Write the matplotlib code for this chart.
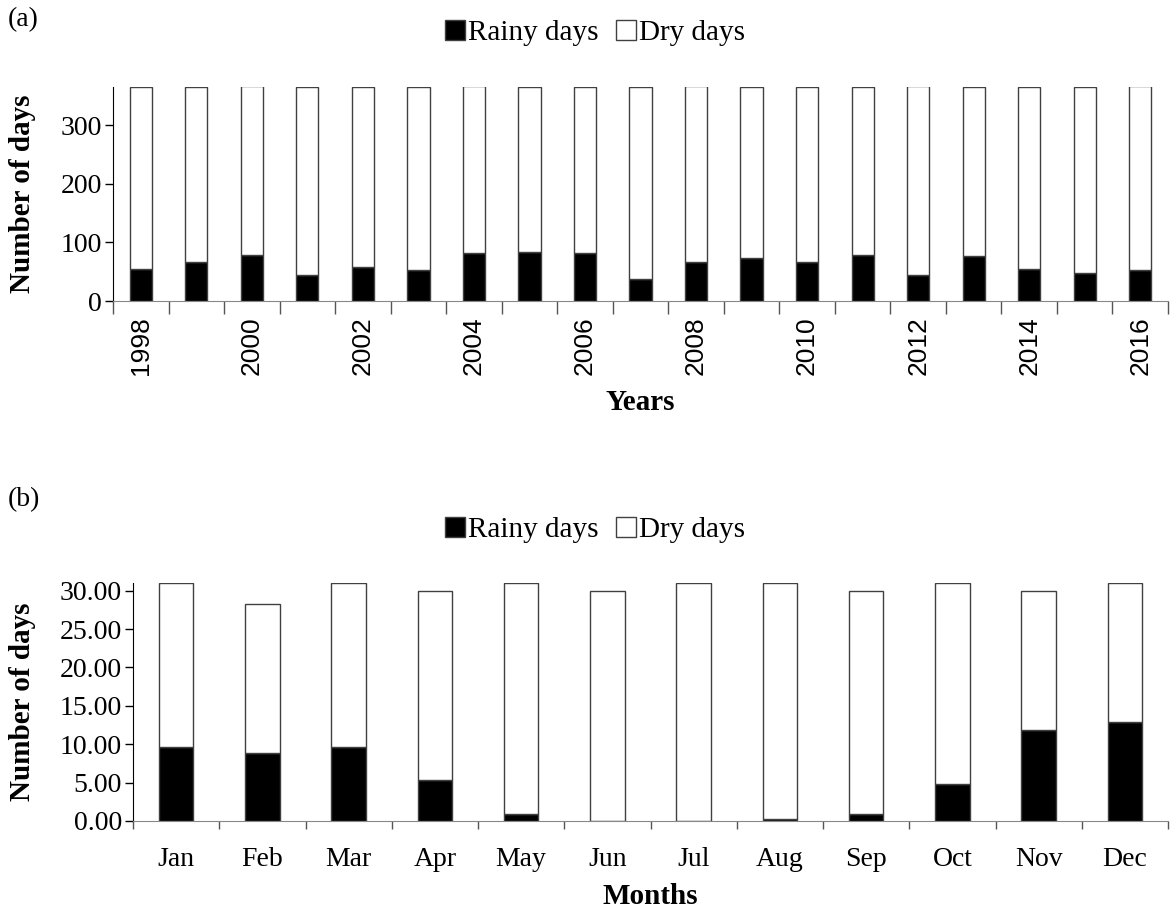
import matplotlib
matplotlib.use("Agg")
import matplotlib.pyplot as plt
import numpy as np
from matplotlib.patches import Patch

plt.rcParams["font.family"] = ["Liberation Serif", "DejaVu Serif"]

# (a) yearly data
years = list(range(1998, 2017))
year_total = [365, 365, 366, 365, 365, 365, 366, 365, 365, 365,
              366, 365, 365, 365, 366, 365, 365, 365, 366]
year_rainy = [55, 67, 79, 44, 58, 53, 82, 84, 82, 38,
              67, 73, 67, 79, 44, 76, 55, 47, 53]

# (b) monthly data
months = ["Jan", "Feb", "Mar", "Apr", "May", "Jun",
          "Jul", "Aug", "Sep", "Oct", "Nov", "Dec"]
month_total = [31, 28.25, 31, 30, 31, 30, 31, 31, 30, 31, 30, 31]
month_rainy = [9.6, 8.8, 9.6, 5.3, 0.9, 0.0, 0.0, 0.2, 0.9, 4.8, 11.8, 12.9]

W, H = 1172, 908
fig = plt.figure(figsize=(W / 100, H / 100), dpi=100)

FS = 20
LFS = 21
edge = "#404040"


def panel(rect, labels, total, rainy, ylim, yticks, yfmt, xlabel, show_every, rot,
          xfamily, xfs, xpad, minor_len):
    ax = fig.add_axes(rect)
    n = len(labels)
    x = np.arange(n)
    rainy = np.array(rainy)
    dry = np.array(total) - rainy
    ax.bar(x, rainy, width=0.4, color="black", edgecolor=edge, linewidth=1)
    ax.bar(x, dry, width=0.4, bottom=rainy, color="white", edgecolor=edge, linewidth=1)
    ax.set_xlim(-0.5, n - 0.5)
    ax.set_ylim(*ylim)
    ax.set_yticks(yticks)
    ax.set_yticklabels([yfmt.format(v) for v in yticks], fontsize=FS)
    ax.set_xticks(x[::show_every])
    ax.set_xticklabels([str(l) for l in labels][::show_every], rotation=rot,
                       fontsize=xfs, family=xfamily)
    ax.tick_params(axis="x", which="major", length=0, pad=xpad)
    # tick marks sit between categories
    ax.set_xticks(np.arange(n + 1) - 0.5, minor=True)
    ax.tick_params(axis="x", which="minor", length=minor_len, width=1, color="#555555")
    ax.tick_params(axis="y", length=6, width=1, direction="out", pad=2)
    for s in ["top", "right"]:
        ax.spines[s].set_visible(False)
    ax.spines["left"].set_color("black")
    ax.spines["bottom"].set_color("#888888")
    ax.set_ylabel("Number of days", fontsize=LFS, fontweight="bold")
    ax.set_xlabel(xlabel, fontsize=LFS, fontweight="bold")
    return ax


ax1 = panel([113 / W, 1 - 301 / H, (1168 - 113) / W, (301 - 87) / H],
            years, year_total, year_rainy, (0, 365), [0, 100, 200, 300], "{:d}",
            "Years", 2, 90, ["Liberation Sans", "DejaVu Sans"], 19, 11, 9)
ax1.yaxis.set_label_coords(-0.073, 0.5)
ax1.xaxis.set_label_coords(0.5, -0.41)

ax2 = panel([133 / W, 1 - 821 / H, (1168 - 133) / W, (821 - 583) / H],
            months, month_total, month_rainy, (0, 31),
            [0, 5, 10, 15, 20, 25, 30], "{:.2f}", "Months", 1, 0,
            ["Liberation Serif", "DejaVu Serif"], FS, 19, 6)
ax2.yaxis.set_label_coords(-0.094, 0.5)
ax2.xaxis.set_label_coords(0.5, -0.26)

handles = [Patch(facecolor="black", edgecolor=edge), Patch(facecolor="white", edgecolor=edge)]
for y in [33 / H, 530 / H]:
    fig.legend(handles, ["Rainy days", "Dry days"], loc="center",
               bbox_to_anchor=(595 / W, 1 - y), ncol=2, frameon=False,
               fontsize=LFS, handlelength=0.7, handleheight=0.7,
               handletextpad=0.1, columnspacing=0.6)

fig.text(8 / W, 1 - 20 / H, "(a)", fontsize=FS, va="center")
fig.text(8 / W, 1 - 500 / H, "(b)", fontsize=FS, va="center")

fig.savefig("out.png", dpi=100)
